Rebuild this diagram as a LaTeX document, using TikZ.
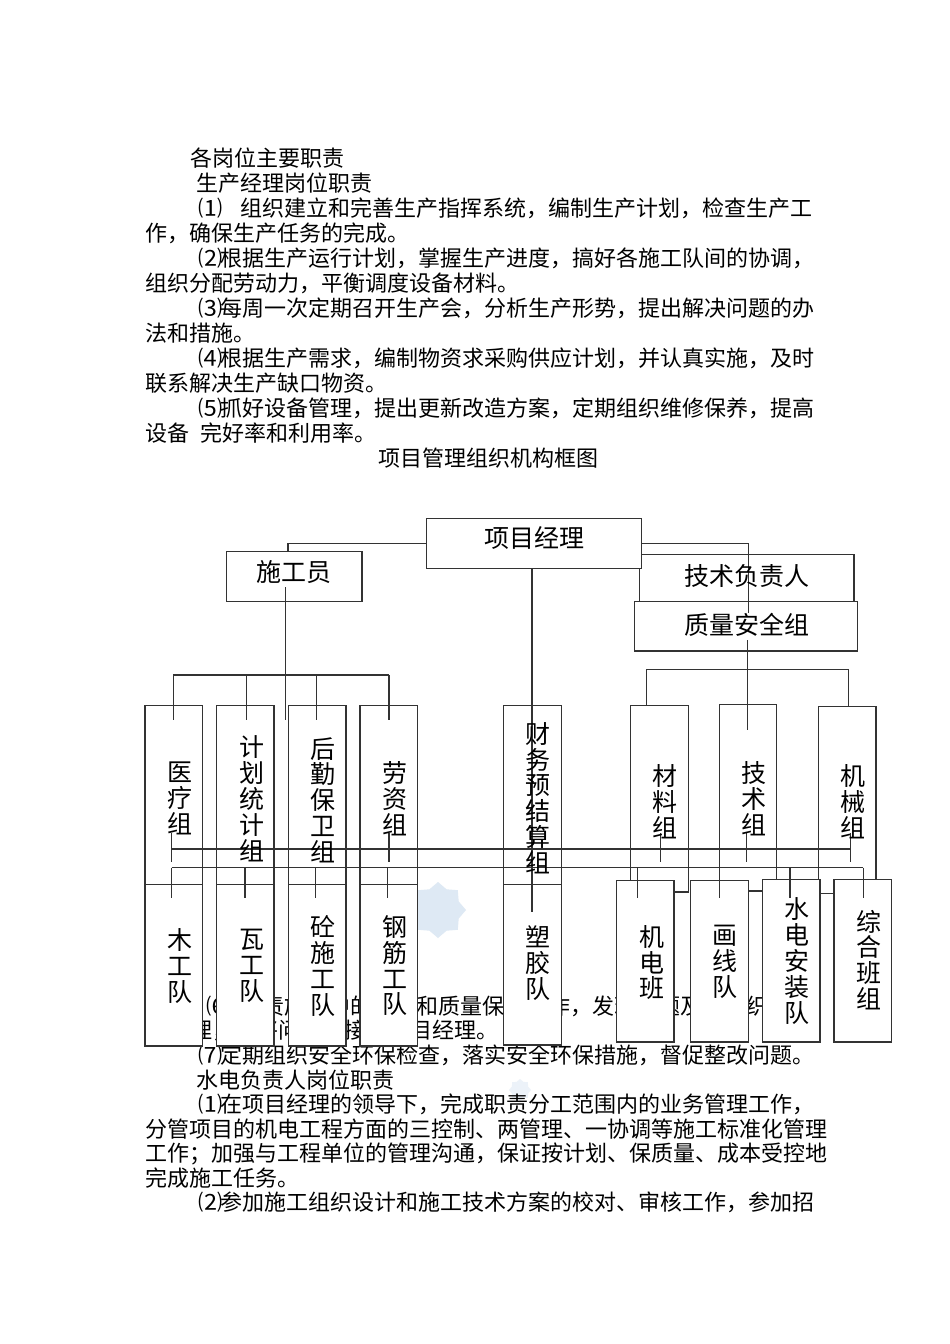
\documentclass[tikz,border=0pt]{standalone}
\usepackage{fontspec}
\usepackage{graphicx}
\newfontfamily\cjk{Noto Sans CJK SC}
\usetikzlibrary{shapes.geometric}
\newcommand\mybox[5]{\node[bx,anchor=north west,minimum width={(#4)-(#2)},minimum height={(#5)-(#3)}] (#1) at (#2,#3) {};}
\newcommand\pn[2]{\makebox[#1][l]{\scalebox{1.1}[1]{#2}}}
\begin{document}
\begin{tikzpicture}[x=1pt,y=-1pt,
  ln/.style={draw=black!80, line width=1.2pt},
  bx/.style={draw=black!80, line width=1.2pt, fill=white, inner sep=0pt, outer sep=0pt},
  body/.style={anchor=west, inner sep=0pt, font=\cjk\fontsize{22}{24}\selectfont},
  lbl/.style={inner sep=0pt, font=\cjk\fontsize{25}{25.8}\selectfont, align=center},
  wm/.style={star, star points=8, star point ratio=1.25, inner sep=0pt},
]
\useasboundingbox[fill=white] (0,0) rectangle (950,1344);
\definecolor{wmblue}{RGB}{222,233,244}
\definecolor{wmblue2}{RGB}{236,242,249}

% watermarks
\node[wm, fill=wmblue, minimum size=56pt] (wm1) at (438,910) {};
\node[wm, fill=wmblue2, minimum size=22pt] (wm2) at (520,1090) {};

% body text
\node[body] (t1) at (190,158) {各岗位主要职责};
\node[body] (t2) at (196,183) {生产经理岗位职责};
\node[body] (t3) at (198,208) {\pn{42pt}{⑴}组织建立和完善生产指挥系统，编制生产计划，检查生产工};
\node[body] (t4) at (145.6,233) {作，确保生产任务的完成。};
\node[body] (t5) at (198,258) {\pn{22pt}{⑵}根据生产运行计划，掌握生产进度，搞好各施工队间的协调，};
\node[body] (t6) at (145.6,283) {组织分配劳动力，平衡调度设备材料。};
\node[body] (t7) at (198,308) {\pn{22pt}{⑶}每周一次定期召开生产会，分析生产形势，提出解决问题的办};
\node[body] (t8) at (145.6,333) {法和措施。};
\node[body] (t9) at (198,358) {\pn{22pt}{⑷}根据生产需求，编制物资求采购供应计划，并认真实施，及时};
\node[body] (t10) at (145.6,383) {联系解决生产缺口物资。};
\node[body] (t11) at (198,408) {\pn{22pt}{⑸}抓好设备管理，提出更新改造方案，定期组织维修保养，提高};
\node[body] (t12) at (145.6,433) {设备\hspace{11pt}完好率和利用率。};
\node[body, anchor=center] (title) at (488,458) {项目管理组织机构框图};

\node[body] (u1) at (206,1006) {\pn{34pt}{⑹}负责施工中的安全和质量保证工作，发现问题及时组织处};
\node[body] (u2) at (190,1030.5) {理，并将问题直接报项目经理。};
\node[body] (u3) at (198,1055) {\pn{22pt}{⑺}定期组织安全环保检查，落实安全环保措施，督促整改问题。};
\node[body] (u4) at (196.5,1080) {水电负责人岗位职责};
\node[body] (u5) at (198,1104.5) {\pn{22pt}{⑴}在项目经理的领导下，完成职责分工范围内的业务管理工作，};
\node[body] (u6) at (145.6,1129) {分管项目的机电工程方面的三控制、两管理、一协调等施工标准化管理};
\node[body] (u7) at (145.6,1153.5) {工作；加强与工程单位的管理沟通，保证按计划、保质量、成本受控地};
\node[body] (u8) at (145.6,1178) {完成施工任务。};
\node[body] (u9) at (198,1202.5) {\pn{22pt}{⑵}参加施工组织设计和施工技术方案的校对、审核工作，参加招};

% top boxes
\mybox{tj}{639.3}{554.3}{854}{606}
\mybox{zl}{634.3}{601.7}{857.3}{651}
\mybox{pm}{426.5}{518.3}{641.3}{568.3}
\mybox{sg}{226.7}{551.7}{362}{601.7}

% upper row
\mybox{yl}{145}{705.7}{202.3}{900}
\mybox{jh}{216.7}{705.7}{274}{900}
\mybox{hq}{288.3}{705.7}{346}{900}
\mybox{lz}{360}{705.7}{417.3}{900}
\mybox{cw}{503.3}{705.7}{561.7}{900}
\mybox{cl}{630.7}{705.7}{688.3}{892}
\mybox{js}{719.3}{704.3}{776.7}{891}
\mybox{jx}{818.3}{706.7}{876}{893.3}

% lower row
\mybox{mg}{145}{884.3}{202.3}{1046}
\mybox{wg}{216.7}{884.3}{274}{1046}
\mybox{tg}{288.3}{884.3}{346}{1046}
\mybox{gj}{360}{884.3}{417.3}{1046}
\mybox{sj}{503.3}{884.3}{561.7}{1045}
\mybox{jd}{616.7}{880.7}{674}{1042}
\mybox{hx}{690.7}{880.7}{748.3}{1042}
\mybox{sd}{762.7}{879.3}{820}{1042}
\mybox{zh}{834}{879.3}{891.7}{1042}

% connector points
\coordinate (pmL) at (288,543.3);
\coordinate (pmR) at (748.3,543.3);
\coordinate (tjEnd) at (748.3,613);
\coordinate (sgA) at (285.5,587);
\coordinate (sgB) at (285.5,720);
\coordinate (pmD) at (532,911.7);
\coordinate (lbL) at (173.3,675);
\coordinate (lbR) at (389,675);
\coordinate (zlA) at (747.7,640);
\coordinate (zlB) at (747.7,730);
\coordinate (rbL) at (646.7,669.3);
\coordinate (rbR) at (848.3,669.3);
\coordinate (aL) at (171.7,849);
\coordinate (aR) at (850.7,849);
\coordinate (bL) at (171.7,867.7);
\coordinate (bR) at (863.3,867.7);

% connectors
\draw[ln] (pm.west) -- (pmL) -- (pmL |- sg.north);
\draw[ln] (pm.east) -- (pmR) -- (tjEnd);
\draw[ln] (sgA) -- (sgB);
\draw[ln] (pm.south -| pmD) -- (pmD);
\draw[ln] (lbL) -- (lbR);
\foreach \x in {173.3,246.7,316.7,389} \draw[ln] (\x,675) -- (\x,720);
\draw[ln] (zlA) -- (zlB);
\draw[ln] (rbL) -- (rbR);
\draw[ln] (rbL) -- (rbL |- cl.north);
\draw[ln] (rbR) -- (rbR |- jx.north);
\draw[ln] (aL) -- (aR);
\foreach \x in {171.7,389,660.3,746.7,850.7} \draw[ln] (\x,833) -- (\x,862);
\draw[ln] (bL) -- (bR);
\foreach \x in {171.7,245,315.7,387.7,637.3,719.3,790,863.3} \draw[ln] (\x,867.7) -- (\x,898);

% labels
\node[lbl] (pm-t) at (534,538) {项目经理};
\node[lbl] (sg-t) at (293.5,572.5) {施工员};
\node[lbl] (tj-t) at (746.7,576) {技术负责人};
\node[lbl] (zl-t) at (746.7,625) {质量安全组};

\node[lbl] (yl-t) at (180,798.3) {医\\疗\\组};
\node[lbl] (jh-t) at (251.7,798.8) {计\\划\\统\\计\\组};
\node[lbl] (hq-t) at (323.3,800) {后\\勤\\保\\卫\\组};
\node[lbl] (lz-t) at (395,799) {劳\\资\\组};
\node[lbl] (cw-t) at (538.3,798) {财\\务\\预\\结\\算\\组};
\node[lbl] (cl-t) at (665,801.7) {材\\料\\组};
\node[lbl] (js-t) at (754,799) {技\\术\\组};
\node[lbl] (jx-t) at (852.7,801.7) {机\\械\\组};

\node[lbl] (mg-t) at (180,965.8) {木\\工\\队};
\node[lbl] (wg-t) at (251.7,965.8) {瓦\\工\\队};
\node[lbl] (tg-t) at (323.3,965.8) {砼\\施\\工\\队};
\node[lbl] (gj-t) at (395,965.8) {钢\\筋\\工\\队};
\node[lbl] (sj-t) at (538.3,963.3) {塑\\胶\\队};
\node[lbl] (jd-t) at (651.7,962.5) {机\\电\\班};
\node[lbl] (hx-t) at (725,962) {画\\线\\队};
\node[lbl] (sd-t) at (796.7,961) {水\\电\\安\\装\\队};
\node[lbl] (zh-t) at (869.3,960) {综\\合\\班\\组};
\end{tikzpicture}
\end{document}
